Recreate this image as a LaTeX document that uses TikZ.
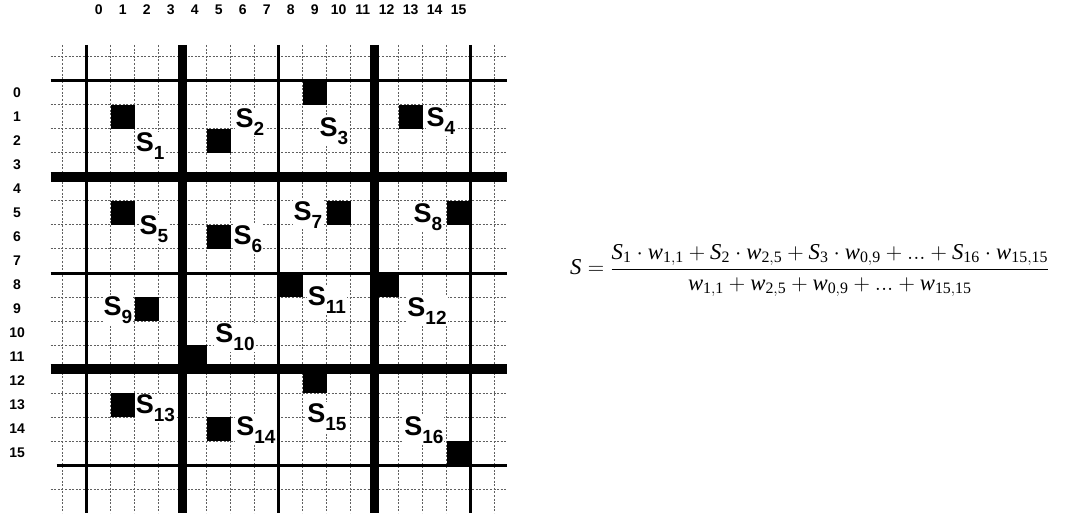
\RequirePackage{fix-cm}
\documentclass[tikz,border=0pt]{standalone}
\usepackage{fontspec}
\setmainfont{Liberation Serif}
\setsansfont{Liberation Sans}
\usepackage{tikz}
\usetikzlibrary{positioning}

\newcommand{\Ssub}[1]{S\raisebox{-8pt}{\fontsize{19}{19}\selectfont #1}}

\tikzset{
  dotline/.style={gray!75!black,line width=1pt,dash pattern=on 2pt off 1.6pt},
  thinline/.style={black,line width=3pt},
  thickline/.style={black,line width=9.5pt},
  numlab/.style={font=\sffamily\bfseries\fontsize{14}{14}\selectfont,inner sep=0pt},
  slab/.style={font=\sffamily\bfseries\fontsize{27}{27}\selectfont,fill=white,inner sep=1pt},
}

\begin{document}
\begin{tikzpicture}[x=24pt,y=-24pt]
  \useasboundingbox (-3.6125,-3.375) rectangle (41.2625,18.0417);
  % 细网格
  \foreach \k in {-1,1,2,3,5,6,7,9,10,11,13,14,15,17} {
    \draw[dotline] (-1.5,\k) -- (17.5,\k);
    \draw[dotline] (\k,-1.5) -- (\k,18);
  }
  % 分块线
  \foreach \k in {0,8} {
    \draw[thinline] (-1.5,\k) -- (17.5,\k);
    \draw[thinline] (\k,-1.5) -- (\k,18);
  }
  \draw[thinline] (-1.25,16) -- (17.5,16);
  \draw[thinline] (16,-1.5) -- (16,18);
  \foreach \k in {4,12} {
    \draw[thickline] (-1.5,\k) -- (17.5,\k);
    \draw[thickline] (\k,-1.5) -- (\k,18);
  }

  % 行列编号
  \foreach \n in {0,...,15} {
    \node[numlab] (col\n) at (\n+0.5,-2.96) {\n};
    \node[numlab] (row\n) at (-2.9,\n+0.5) {\n};
  }

  % 样本标签
  \foreach \n/\lx/\ly in {1/2.64/2.71, 2/6.80/1.71, 3/10.30/2.08, 4/14.76/1.67,
      5/2.80/6.17, 6/6.72/6.58, 7/9.22/5.58, 8/14.22/5.67,
      9/1.30/9.54, 10/6.18/10.67, 11/10.01/9.13, 12/14.18/9.58,
      13/2.86/13.63, 14/7.05/14.54, 15/10.01/14.0, 16/14.05/14.54}
    \node[slab] (s\n) at (\lx,\ly) {\Ssub{\n}};

  % 采样点
  \foreach \c/\r in {1/1, 5/2, 9/0, 13/1, 1/5, 5/6, 10/5, 15/5,
      2/9, 4/11, 8/8, 12/8, 1/13, 5/14, 9/12, 15/15}
    \fill[black] (\c,\r) rectangle ++(1,1);

  % 加权平均
  \node[anchor=west,font=\fontsize{22.7}{27}\selectfont] (avg) at (20.0,7.9)
    {$\mathit{S}=\displaystyle\frac{\mathit{S}_{\mathrm{1}}\cdot\mathit{w}_{\mathrm{1{,}1}}+\mathit{S}_{\mathrm{2}}\cdot\mathit{w}_{\mathrm{2{,}5}}+\mathit{S}_{\mathrm{3}}\cdot\mathit{w}_{\mathrm{0{,}9}}+\mathrm{...}+\mathit{S}_{\mathrm{16}}\cdot\mathit{w}_{\mathrm{15{,}15}}}{\mathit{w}_{\mathrm{1{,}1}}+\mathit{w}_{\mathrm{2{,}5}}+\mathit{w}_{\mathrm{0{,}9}}+\mathrm{...}+\mathit{w}_{\mathrm{15{,}15}}}$};
\end{tikzpicture}
\end{document}
